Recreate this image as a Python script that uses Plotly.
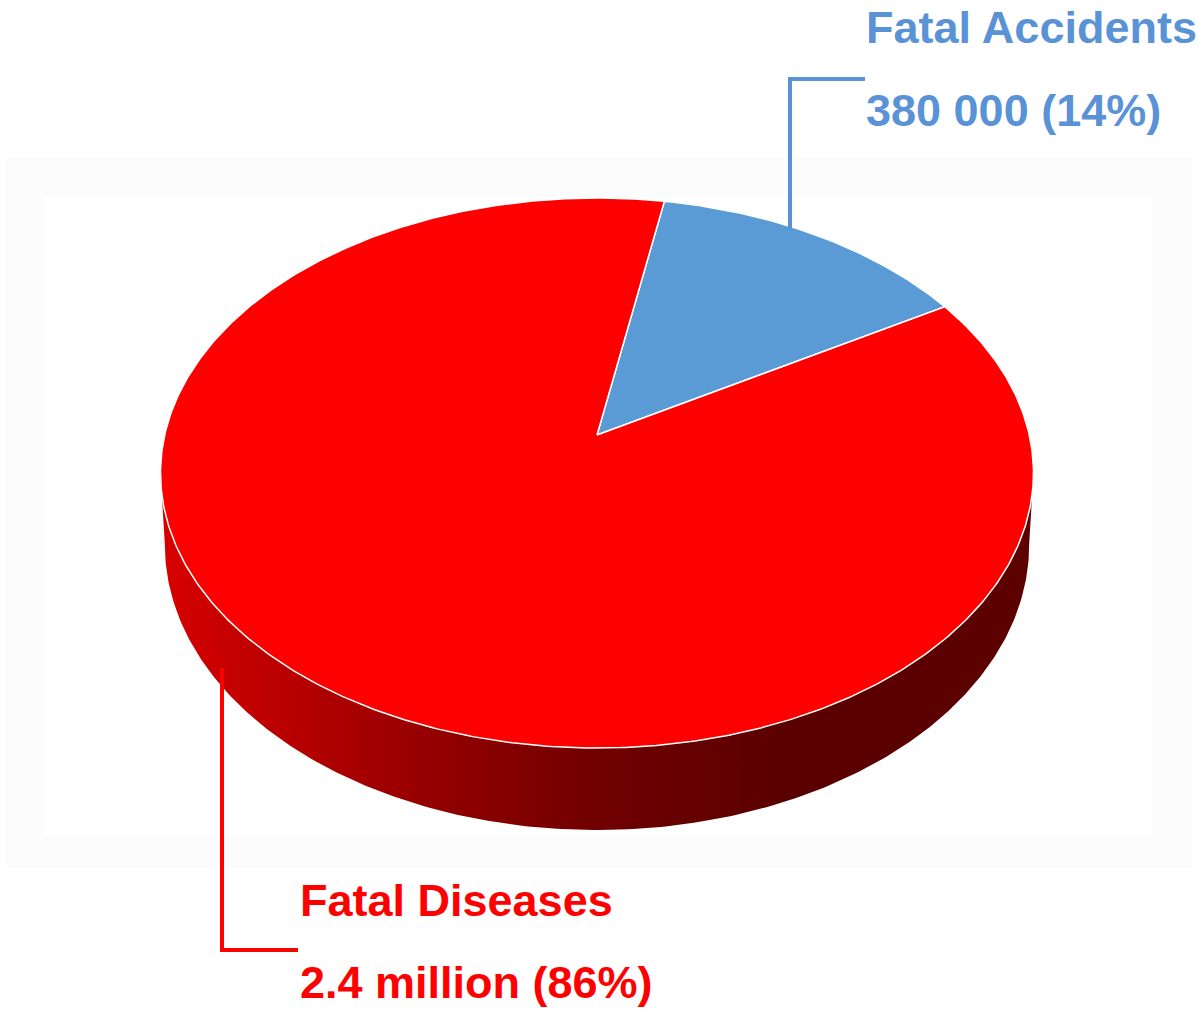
import numpy as np
import plotly.graph_objects as go

# ---- data ----
labels = ["Fatal Accidents", "Fatal Diseases"]
values = [380000, 2400000]
value_text = ["380 000", "2.4 million"]
slice_colors = ["#5B9BD5", "#FF0000"]
text_colors = ["#5A92D6", "#FF0000"]

# ---- perspective projection of a tilted disc (style parameters) ----
CX, B, A, C, K = 597.0, 435.0, 209.64, -0.13818, 432.3
DEPTH = 70.7
START_DEG = 10.2  # clockwise from the back of the disc


def proj(theta_deg, r=1.0, drop=0.0, kscale=1.0):
    t = np.radians(theta_deg)
    X = r * np.sin(t)
    z = -r * np.cos(t)
    w = 1 + C * z
    x = CX + K * kscale * X / w
    y = (A * z + B) / w + drop / w
    return x, y


total = sum(values)
fracs = [v / total for v in values]

fig = go.Figure()

# side wall (front half of the rim)
z_ext = -C
th_r = np.degrees(np.arccos(-z_ext))
th_l = 360 - th_r
th = np.linspace(th_r, th_l, 300)
xt, yt = proj(th)
xb, yb = proj(th[::-1], drop=DEPTH, kscale=0.99)
fig.add_trace(go.Scatter(
    x=np.concatenate([xt, xb]), y=np.concatenate([yt, yb]),
    fill="toself", mode="lines", line=dict(width=0),
    fillgradient=dict(type="horizontal", colorscale=[
        [0.0, "#D80000"], [0.28, "#9A0000"], [0.5, "#700000"],
        [0.72, "#5A0000"], [1.0, "#5C0000"]]),
    hoverinfo="skip", showlegend=False))

# top slices
start = START_DEG
for lab, f, col in zip(labels, fracs, slice_colors):
    end = start + 360 * f
    th = np.linspace(start, end, max(int(360 * f * 2), 20))
    ax, ay = proj(th)
    apx, apy = proj(0.0, r=0.0)
    xs = np.concatenate([[apx], ax, [apx]])
    ys = np.concatenate([[apy], ay, [apy]])
    fig.add_trace(go.Scatter(
        x=xs, y=ys, fill="toself", fillcolor=col, mode="lines",
        line=dict(color="white", width=1.5), name=lab,
        hoverinfo="skip", showlegend=False))
    start = end

# labels
pcts = [round(100 * f) for f in fracs]
label_pos = [(864, 27, 110), (298, 900, 982)]
for lab, vt, p, tc, (lx, y1, y2) in zip(labels, value_text, pcts, text_colors, label_pos):
    fig.add_annotation(x=lx, y=y1, text=f"<b>{lab}</b>", showarrow=False,
                       xanchor="left", yanchor="middle",
                       font=dict(family="Liberation Sans, Arial", size=45, color=tc))
    fig.add_annotation(x=lx, y=y2, text=f"<b>{vt} ({p}%)</b>", showarrow=False,
                       xanchor="left", yanchor="middle",
                       font=dict(family="Liberation Sans, Arial", size=45, color=tc))

shapes = [
    dict(type="rect", x0=5, y0=158, x1=1192, y1=868, fillcolor="#FCFCFC",
         line=dict(width=0), layer="below"),
    dict(type="rect", x0=45, y0=197, x1=1152, y1=835, fillcolor="#FFFFFF",
         line=dict(width=0), layer="below"),
    dict(type="path", path="M 790 230 L 790 79 L 865 79",
         line=dict(color="#5A92D6", width=4)),
    dict(type="path", path="M 222 668 L 222 950 L 298 950",
         line=dict(color="#FF0000", width=4)),
]

fig.update_layout(
    width=1199, height=1009,
    margin=dict(l=0, r=0, t=0, b=0),
    paper_bgcolor="white", plot_bgcolor="white",
    xaxis=dict(range=[0, 1199], visible=False, fixedrange=True),
    yaxis=dict(range=[1009, 0], visible=False, fixedrange=True),
    shapes=shapes,
)

fig.write_html("out.html", config={"displayModeBar": False},
               post_script="document.body.style.margin='0px';document.body.style.overflow='hidden';")
